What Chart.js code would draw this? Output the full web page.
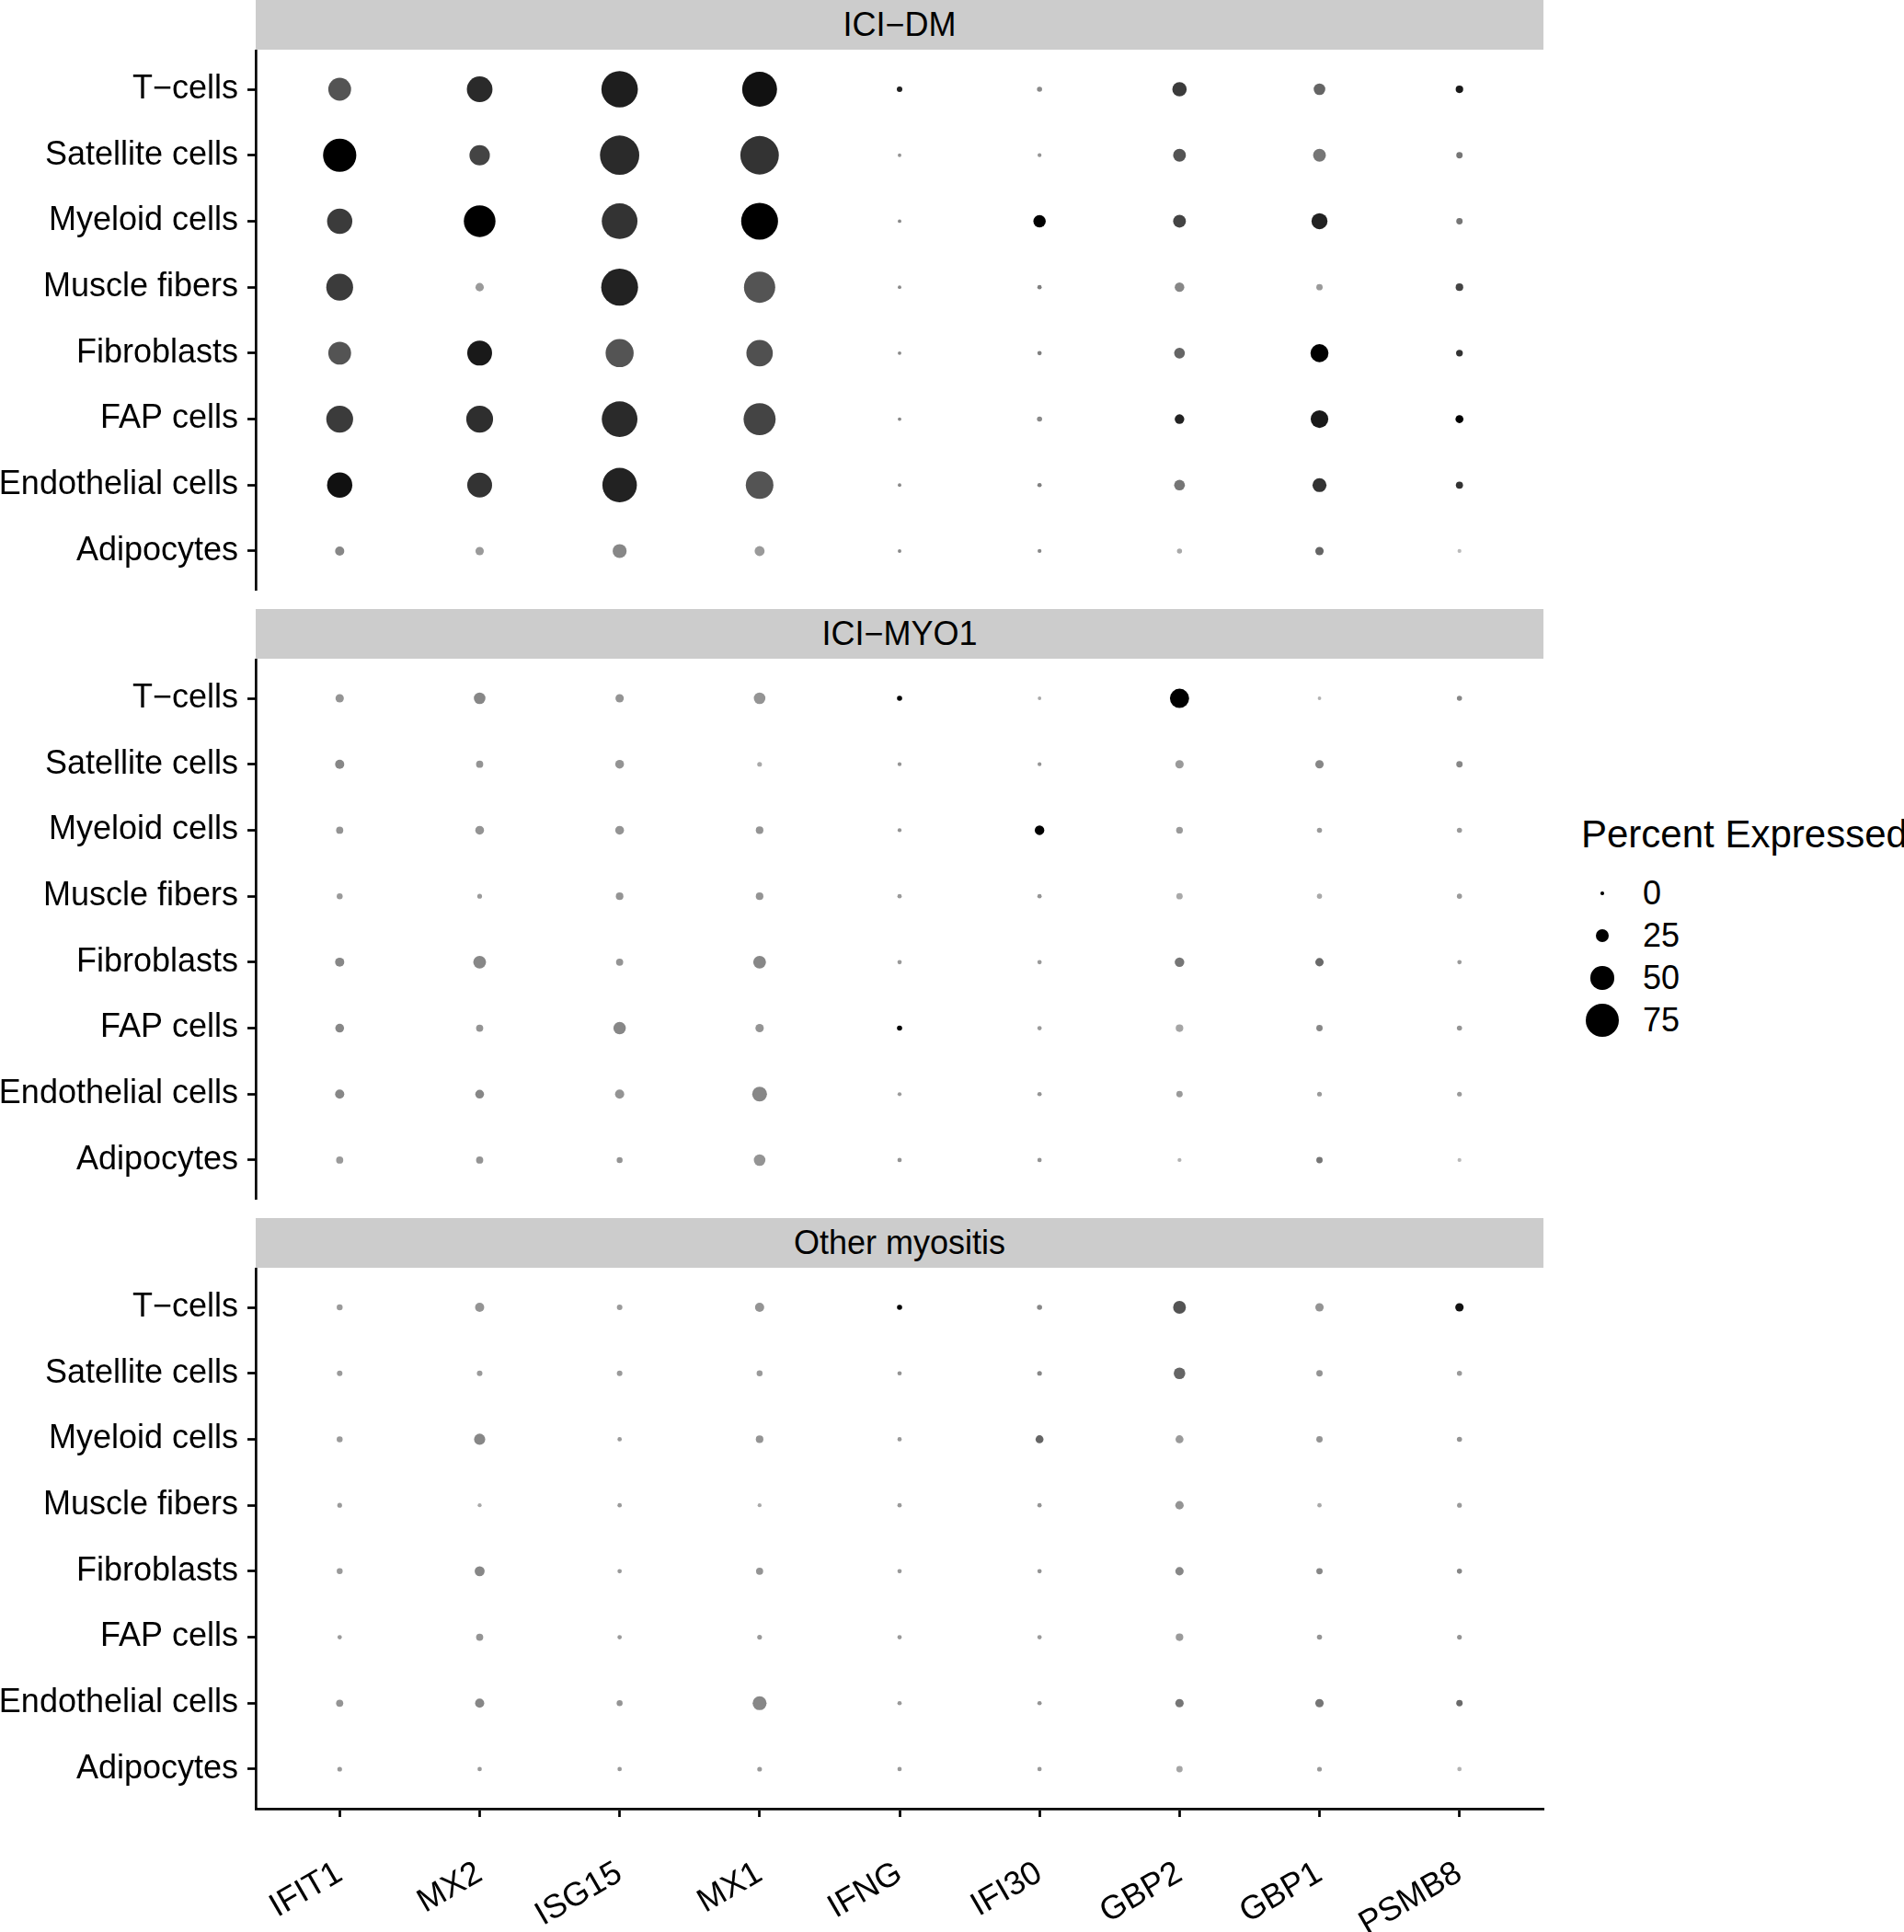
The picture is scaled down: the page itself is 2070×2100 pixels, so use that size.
<!DOCTYPE html>
<html>
<head>
<meta charset="utf-8">
<script src="https://cdn.jsdelivr.net/npm/chart.js@4.4.1/dist/chart.umd.min.js"></script>
<style>
  body { margin: 0; background: #fff; width: 2070px; height: 2100px; position: relative; overflow: hidden;
         font-family: "Liberation Sans", Arial, sans-serif; color: #000; }
  .strip { position: absolute; left: 278px; width: 1400px; height: 54px; background: #cccccc;
           font-size: 36px; line-height: 54px; text-align: center; }
  canvas { position: absolute; left: 0; }
  #legend-title { position: absolute; left: 1719px; top: 882px; font-size: 42px; line-height: 50px; white-space: nowrap; }
  .lg-row { position: absolute; left: 1700px; height: 46px; width: 200px; }
  .lg-dot { position: absolute; background: #000; border-radius: 50%; }
  .lg-lab { position: absolute; left: 86px; top: 0; font-size: 36px; line-height: 46px; }
</style>
</head>
<body>
<div class="strip" style="top:0px">ICI−DM</div>
<div class="strip" style="top:662px">ICI−MYO1</div>
<div class="strip" style="top:1324px">Other myositis</div>
<canvas id="p1" width="1690" height="588" style="top:54px"></canvas>
<canvas id="p2" width="1690" height="588" style="top:716px"></canvas>
<canvas id="p3" width="1690" height="722" style="top:1378px"></canvas>
<div id="legend-title">Percent Expressed</div>
<div id="legend"></div>
<script>
const genes = ['IFIT1', 'MX2', 'ISG15', 'MX1', 'IFNG', 'IFI30', 'GBP2', 'GBP1', 'PSMB8'];
const cellTypes = ['T−cells', 'Satellite cells', 'Myeloid cells', 'Muscle fibers',
  'Fibroblasts', 'FAP cells', 'Endothelial cells', 'Adipocytes'];
const legendBreaks = [0, 25, 50, 75];

// percent expressed, rows = cellTypes, cols = genes
const pctDM = [
  [49, 56, 83, 79, 6, 5, 28, 21, 11],
  [75, 43, 90, 88, 1, 2, 24, 24, 8],
  [55, 71, 81, 84, 1, 23, 24, 32, 8],
  [59, 13, 84, 70, 1, 3, 16, 8, 11],
  [49, 54, 62, 58, 1, 3, 19, 37, 9],
  [59, 59, 81, 72, 1, 5, 16, 36, 12],
  [55, 54, 78, 61, 1, 3, 19, 27, 10],
  [15, 13, 27, 17, 1, 2, 5, 13, 2],
];
// scaled average expression (0 = light grey, 1 = black)
const expDM = [
  [0.6, 0.8, 0.86, 0.92, 0.85, 0.35, 0.72, 0.52, 0.88],
  [1.0, 0.68, 0.8, 0.76, 0.3, 0.3, 0.6, 0.44, 0.44],
  [0.72, 1.0, 0.76, 1.0, 0.35, 1.0, 0.68, 0.84, 0.44],
  [0.72, 0.27, 0.84, 0.6, 0.35, 0.4, 0.36, 0.27, 0.68],
  [0.6, 0.88, 0.6, 0.62, 0.35, 0.4, 0.52, 1.0, 0.76],
  [0.72, 0.78, 0.8, 0.68, 0.35, 0.35, 0.84, 0.88, 1.0],
  [0.92, 0.76, 0.84, 0.6, 0.35, 0.4, 0.44, 0.76, 0.76],
  [0.36, 0.27, 0.36, 0.27, 0.35, 0.35, 0.2, 0.52, 0.12],
];

const pctMYO1 = [
  [13, 21, 13, 21, 5, 1, 40, 1, 5],
  [15, 10, 14, 4, 2, 2, 13, 13, 8],
  [10, 14, 14, 11, 2, 16, 9, 5, 5],
  [7, 4, 11, 11, 3, 3, 8, 5, 5],
  [15, 24, 10, 24, 3, 3, 16, 13, 3],
  [14, 10, 23, 13, 5, 3, 11, 8, 5],
  [15, 14, 15, 29, 2, 3, 8, 4, 4],
  [10, 10, 7, 21, 3, 3, 2, 8, 2],
];
const expMYO1 = [
  [0.3, 0.36, 0.3, 0.3, 1.0, 0.2, 1.0, 0.15, 0.36],
  [0.36, 0.3, 0.3, 0.2, 0.3, 0.3, 0.27, 0.36, 0.36],
  [0.3, 0.3, 0.3, 0.3, 0.3, 1.0, 0.27, 0.27, 0.27],
  [0.27, 0.27, 0.3, 0.3, 0.27, 0.3, 0.2, 0.2, 0.27],
  [0.36, 0.36, 0.3, 0.36, 0.27, 0.27, 0.44, 0.5, 0.27],
  [0.36, 0.3, 0.36, 0.3, 1.0, 0.27, 0.22, 0.36, 0.3],
  [0.36, 0.36, 0.3, 0.36, 0.27, 0.3, 0.27, 0.27, 0.27],
  [0.27, 0.3, 0.3, 0.3, 0.3, 0.3, 0.15, 0.44, 0.12],
];

const pctOther = [
  [7, 15, 6, 15, 5, 5, 24, 13, 13],
  [6, 6, 6, 7, 3, 4, 21, 8, 5],
  [7, 20, 3, 11, 3, 12, 12, 8, 5],
  [4, 2, 3, 2, 3, 3, 13, 3, 4],
  [7, 17, 3, 10, 3, 3, 13, 8, 5],
  [3, 10, 3, 4, 3, 3, 11, 5, 4],
  [10, 15, 7, 27, 3, 3, 13, 13, 8],
  [4, 3, 3, 4, 3, 3, 8, 4, 3],
];
const expOther = [
  [0.27, 0.3, 0.27, 0.3, 1.0, 0.36, 0.6, 0.3, 0.92],
  [0.27, 0.27, 0.27, 0.27, 0.3, 0.36, 0.52, 0.3, 0.27],
  [0.27, 0.36, 0.27, 0.3, 0.27, 0.52, 0.27, 0.3, 0.3],
  [0.27, 0.2, 0.27, 0.2, 0.27, 0.3, 0.3, 0.2, 0.27],
  [0.27, 0.36, 0.27, 0.3, 0.27, 0.3, 0.36, 0.36, 0.36],
  [0.27, 0.3, 0.27, 0.27, 0.27, 0.27, 0.27, 0.3, 0.3],
  [0.3, 0.36, 0.3, 0.36, 0.27, 0.3, 0.44, 0.44, 0.5],
  [0.27, 0.27, 0.27, 0.27, 0.27, 0.27, 0.22, 0.27, 0.15],
];

const FONT = 'Liberation Sans, Arial, sans-serif';

// ggplot radius scale: diameter grows linearly with percent
const radiusFor = (pct) => 1.7 + 0.2185 * pct;
const shade = (e) => {
  const g = Math.round(211 * (1 - e));
  return `rgb(${g},${g},${g})`;
};

const toPoints = (pct, exp) =>
  pct.flatMap((row, i) => row.map((v, j) => ({ x: j, y: i, r: radiusFor(v), e: exp[i][j] })));

const noPadding = (axis) => {
  axis.paddingTop = 0;
  axis.paddingBottom = 0;
  axis.paddingLeft = 0;
  axis.paddingRight = 0;
};

const makePanel = (id, pct, exp, showX) =>
  new Chart(document.getElementById(id), {
    type: 'bubble',
    data: {
      datasets: [{
        data: toPoints(pct, exp),
        backgroundColor: (ctx) => shade(ctx.raw ? ctx.raw.e : 0),
        borderWidth: 0,
        hoverBorderWidth: 0,
        hoverRadius: 0,
      }],
    },
    options: {
      responsive: false,
      animation: false,
      events: [],
      layout: { autoPadding: false, padding: { left: 0, right: 12, top: 0, bottom: 0 } },
      plugins: { legend: { display: false }, tooltip: { enabled: false } },
      scales: {
        x: {
          type: 'linear',
          display: showX,
          min: -0.6,
          max: 8.6,
          afterBuildTicks: (axis) => { axis.ticks = genes.map((_, i) => ({ value: i })); },
          afterFit: (axis) => {
            noPadding(axis);
            axis.height = showX ? 134 : 0;
          },
          ticks: {
            callback: (v) => genes[v],
            autoSkip: false,
            minRotation: 30,
            maxRotation: 30,
            padding: 40,
            color: '#000',
            font: { family: FONT, size: 36 },
          },
          grid: { display: true, drawOnChartArea: false, drawTicks: true, tickLength: 9, tickWidth: 2.7, tickColor: '#000' },
          border: { display: true, color: '#000', width: 2.7 },
        },
        y: {
          type: 'linear',
          reverse: true,
          min: -0.6,
          max: 7.6,
          afterBuildTicks: (axis) => { axis.ticks = cellTypes.map((_, i) => ({ value: i })); },
          afterFit: (axis) => {
            noPadding(axis);
            axis.width = 278;
          },
          ticks: {
            callback: (v) => cellTypes[v],
            autoSkip: false,
            padding: 10,
            color: '#000',
            font: { family: FONT, size: 36 },
          },
          grid: { display: true, drawOnChartArea: false, drawTicks: true, tickLength: 9, tickWidth: 2.7, tickColor: '#000' },
          border: { display: true, color: '#000', width: 2.7 },
        },
      },
    },
  });

makePanel('p1', pctDM, expDM, false);
makePanel('p2', pctMYO1, expMYO1, false);
makePanel('p3', pctOther, expOther, true);

// size legend
const legend = document.getElementById('legend');
legendBreaks.forEach((b, i) => {
  const row = document.createElement('div');
  row.className = 'lg-row';
  row.style.top = `${948 + i * 46}px`;
  const r = radiusFor(b);
  const dot = document.createElement('div');
  dot.className = 'lg-dot';
  dot.style.width = `${2 * r}px`;
  dot.style.height = `${2 * r}px`;
  dot.style.left = `${42 - r}px`;
  dot.style.top = `${23 - r}px`;
  const lab = document.createElement('div');
  lab.className = 'lg-lab';
  lab.textContent = String(b);
  row.appendChild(dot);
  row.appendChild(lab);
  legend.appendChild(row);
});
</script>
</body>
</html>
